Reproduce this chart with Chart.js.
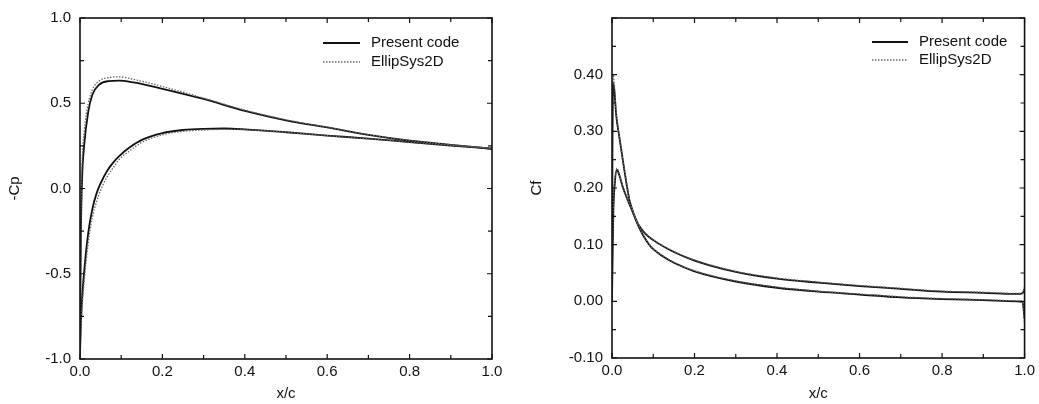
<!DOCTYPE html>
<html>
<head>
<meta charset="utf-8">
<script src="https://cdn.jsdelivr.net/npm/chart.js@4.4.1/dist/chart.umd.min.js"></script>
<style>
  body { margin: 0; background: #fff; }
  .wrap { position: absolute; top: 0; height: 404px; }
  #left { left: 0; width: 520px; }
  #right { left: 520px; width: 519px; }
</style>
</head>
<body>
<div class="wrap" id="left"><canvas id="cpChart" width="520" height="404"></canvas></div>
<div class="wrap" id="right"><canvas id="cfChart" width="519" height="404"></canvas></div>
<script>
// -Cp, upper and lower surface
const cpUpperX = [0, 0.002, 0.005, 0.01, 0.02, 0.03, 0.047, 0.07, 0.095, 0.13, 0.2, 0.3, 0.4, 0.5, 0.6, 0.7, 0.8, 0.9, 1.0];
const cpUpperPresent = [-0.97, -0.3, 0.05, 0.25, 0.45, 0.55, 0.61, 0.63, 0.633, 0.622, 0.585, 0.525, 0.455, 0.40, 0.358, 0.314, 0.28, 0.256, 0.233];
const cpUpperEllip = [-0.97, -0.2, 0.15, 0.33, 0.5, 0.58, 0.632, 0.651, 0.655, 0.64, 0.598, 0.53, 0.46, 0.403, 0.36, 0.316, 0.281, 0.257, 0.235];

const cpLowerX = [0, 0.002, 0.005, 0.01, 0.02, 0.03, 0.04, 0.05, 0.065, 0.08, 0.095, 0.12, 0.15, 0.2, 0.25, 0.3, 0.35, 0.4, 0.5, 0.6, 0.7, 0.8, 0.9, 1.0];
const cpLowerPresent = [-0.97, -0.8, -0.65, -0.49, -0.26, -0.12, -0.03, 0.03, 0.10, 0.15, 0.19, 0.24, 0.285, 0.325, 0.343, 0.35, 0.352, 0.347, 0.33, 0.31, 0.293, 0.272, 0.252, 0.233];
const cpLowerEllip = [-0.97, -0.85, -0.7, -0.55, -0.32, -0.17, -0.08, -0.01, 0.065, 0.12, 0.17, 0.22, 0.27, 0.315, 0.335, 0.343, 0.347, 0.345, 0.33, 0.31, 0.292, 0.272, 0.253, 0.235];

// Cf, upper and lower surface
const cfUpperX = [0, 0.001, 0.003, 0.006, 0.01, 0.018, 0.03, 0.042, 0.05, 0.062, 0.075, 0.09, 0.1, 0.12, 0.15, 0.2, 0.3, 0.4, 0.5, 0.6, 0.7, 0.8, 0.9, 0.98, 0.995, 1.0];
const cfUpperPresent = [0.0, 0.25, 0.385, 0.37, 0.33, 0.289, 0.231, 0.18, 0.16, 0.136, 0.117, 0.1, 0.092, 0.081, 0.068, 0.053, 0.035, 0.024, 0.017, 0.012, 0.007, 0.004, 0.002, 0.0, -0.001, -0.03];
const cfUpperEllip = [0.0, 0.27, 0.40, 0.38, 0.335, 0.29, 0.232, 0.181, 0.161, 0.137, 0.118, 0.101, 0.093, 0.082, 0.069, 0.054, 0.036, 0.025, 0.018, 0.013, 0.008, 0.005, 0.003, 0.001, 0.0, -0.04];

const cfLowerX = [0, 0.003, 0.007, 0.012, 0.018, 0.026, 0.038, 0.05, 0.062, 0.08, 0.1, 0.15, 0.2, 0.3, 0.4, 0.5, 0.6, 0.7, 0.8, 0.9, 0.98, 0.995, 1.0];
const cfLowerPresent = [0.0, 0.15, 0.21, 0.232, 0.222, 0.202, 0.179, 0.158, 0.138, 0.12, 0.108, 0.087, 0.072, 0.052, 0.040, 0.033, 0.027, 0.022, 0.017, 0.015, 0.013, 0.014, 0.022];
const cfLowerEllip = [0.0, 0.16, 0.215, 0.235, 0.224, 0.203, 0.18, 0.159, 0.139, 0.121, 0.109, 0.088, 0.073, 0.053, 0.041, 0.034, 0.028, 0.023, 0.018, 0.016, 0.014, 0.015, 0.025];

const seriesNames = ['Present code', 'EllipSys2D'];

Chart.defaults.font.family = '"Liberation Sans", Arial, sans-serif';
Chart.defaults.font.size = 15;
Chart.defaults.color = '#111';

const presentStyle = { borderColor: '#111', borderWidth: 1.8, borderDash: [] };
const ellipStyle = { borderColor: '#666', borderWidth: 1.3, borderDash: [1.5, 1.5] };

const toPoints = (xs, ys) => xs.map((x, i) => ({ x, y: ys[i] }));
const clean = (v) => (Math.abs(v) < 1e-9 ? 0 : Number(v));

const lineSet = (label, xs, ys, style) => ({
    label,
    data: toPoints(xs, ys),
    ...style,
    pointRadius: 0,
    fill: false,
    cubicInterpolationMode: 'monotone',
});

// inward ticks on all four sides, frame, and the legend inside the plot
const framePlugin = {
    id: 'frameTicks',
    afterDraw(chart, args, opts) {
        const { ctx, chartArea: a, scales } = chart;
        ctx.save();
        ctx.strokeStyle = '#111';
        ctx.lineWidth = 1.2;
        ctx.beginPath();
        scales.x.ticks.forEach((t, i) => {
            const px = scales.x.getPixelForValue(t.value);
            const len = i % 2 === 0 ? 5 : 4;
            ctx.moveTo(px, a.bottom); ctx.lineTo(px, a.bottom - len);
            ctx.moveTo(px, a.top); ctx.lineTo(px, a.top + len);
        });
        scales.y.ticks.forEach((t, i) => {
            const py = scales.y.getPixelForValue(t.value);
            const len = i % 2 === 0 ? 5 : 4;
            ctx.moveTo(a.left, py); ctx.lineTo(a.left + len, py);
            ctx.moveTo(a.right, py); ctx.lineTo(a.right - len, py);
        });
        ctx.stroke();
        ctx.lineWidth = 1.6;
        ctx.strokeRect(a.left, a.top, a.right - a.left, a.bottom - a.top);

        const styles = [presentStyle, ellipStyle];
        ctx.font = '15px "Liberation Sans", Arial, sans-serif';
        ctx.fillStyle = '#111';
        ctx.textBaseline = 'middle';
        seriesNames.forEach((name, i) => {
            const y = opts.top + i * opts.gap;
            ctx.strokeStyle = styles[i].borderColor;
            ctx.lineWidth = styles[i].borderWidth;
            ctx.setLineDash(styles[i].borderDash);
            ctx.beginPath();
            ctx.moveTo(opts.left, y);
            ctx.lineTo(opts.left + opts.sample, y);
            ctx.stroke();
            ctx.setLineDash([]);
            ctx.fillText(name, opts.left + opts.sample + 11, y);
        });
        ctx.restore();
    },
};

const makeChart = (canvas, cfg) => new Chart(canvas, {
    type: 'line',
    data: { datasets: cfg.datasets },
    plugins: [framePlugin],
    options: {
        responsive: false,
        animation: false,
        layout: { padding: cfg.padding },
        plugins: {
            legend: { display: false },
            tooltip: { enabled: false },
            frameTicks: cfg.legend,
        },
        scales: {
            x: {
                type: 'linear',
                min: 0,
                max: 1,
                afterFit: (s) => { s.height = cfg.xHeight; },
                grid: { display: false, drawTicks: false },
                border: { display: false },
                ticks: {
                    stepSize: 0.1,
                    padding: 4,
                    maxRotation: 0,
                    autoSkip: false,
                    callback: (v, i) => (i % 2 === 0 ? clean(v).toFixed(1) : ''),
                },
                title: { display: true, text: 'x/c', padding: { top: 0, bottom: 1 } },
            },
            y: {
                type: 'linear',
                min: cfg.yMin,
                max: cfg.yMax,
                afterFit: (s) => { s.width = cfg.yWidth; },
                grid: { display: false, drawTicks: false },
                border: { display: false },
                ticks: {
                    stepSize: cfg.yStep,
                    padding: 9,
                    autoSkip: false,
                    callback: cfg.yLabel,
                },
                title: { display: true, text: cfg.yTitle, padding: { top: cfg.yTitlePad, bottom: 0 } },
            },
        },
    },
});

makeChart(document.getElementById('cpChart'), {
    datasets: [
        lineSet(seriesNames[1], cpUpperX, cpUpperEllip, ellipStyle),
        lineSet(seriesNames[1], cpLowerX, cpLowerEllip, ellipStyle),
        lineSet(seriesNames[0], cpUpperX, cpUpperPresent, presentStyle),
        lineSet(seriesNames[0], cpLowerX, cpLowerPresent, presentStyle),
    ],
    padding: { left: 0, top: 13, right: 28, bottom: 0 },
    xHeight: 45,
    yWidth: 80,
    yMin: -1,
    yMax: 1,
    yStep: 0.25,
    yLabel: (v, i) => (i % 2 === 0 ? clean(v).toFixed(1) : ''),
    yTitle: '-Cp',
    yTitlePad: 6,
    legend: { left: 323, top: 43, gap: 19, sample: 37 },
});

makeChart(document.getElementById('cfChart'), {
    datasets: [
        lineSet(seriesNames[1], cfUpperX, cfUpperEllip, ellipStyle),
        lineSet(seriesNames[1], cfLowerX, cfLowerEllip, ellipStyle),
        lineSet(seriesNames[0], cfUpperX, cfUpperPresent, presentStyle),
        lineSet(seriesNames[0], cfLowerX, cfLowerPresent, presentStyle),
    ],
    padding: { left: 0, top: 12, right: 11, bottom: 0 },
    xHeight: 46,
    yWidth: 92,
    yMin: -0.1,
    yMax: 0.5,
    yStep: 0.05,
    yLabel: (v, i, ticks) => (i % 2 === 0 && i < ticks.length - 1 ? clean(v).toFixed(2) : ''),
    yTitle: 'Cf',
    yTitlePad: 8,
    legend: { left: 352, top: 42, gap: 18, sample: 36 },
});
</script>
</body>
</html>
